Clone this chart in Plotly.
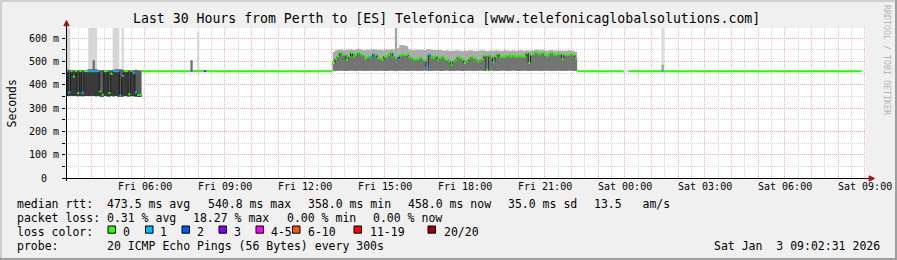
import pandas as pd
import plotly.graph_objects as go

# ---------------------------------------------------------------- data
TITLE = "Last 30 Hours from Perth to [ES] Telefonica [www.telefonicaglobalsolutions.com]"
X_START = "2026-01-02 03:02:31"
X_END = "2026-01-03 09:02:31"
Y_MAX = 643          # ms
STEP_MIN = 5         # probe interval (300 s)

x_tick_times = ["2026-01-02 06:00", "2026-01-02 09:00", "2026-01-02 12:00",
                "2026-01-02 15:00", "2026-01-02 18:00", "2026-01-02 21:00",
                "2026-01-03 00:00", "2026-01-03 03:00", "2026-01-03 06:00",
                "2026-01-03 09:00"]
x_tick_labels = ["Fri 06:00", "Fri 09:00", "Fri 12:00", "Fri 15:00", "Fri 18:00",
                 "Fri 21:00", "Sat 00:00", "Sat 03:00", "Sat 06:00", "Sat 09:00"]
y_tick_values = [0, 100, 200, 300, 400, 500, 600]
y_tick_labels = ["0", "100 m", "200 m", "300 m", "400 m", "500 m", "600 m"]

loss_labels = ["0", "1", "2", "3", "4-5", "6-10", "11-19", "20/20"]

# block A: unstable period at the start (5-min steps)
a_start = "2026-01-02 03:02:31"
a_median = [458, 367, 458, 435, 458, 364, 458, 364, 458, 458,
            458, 458, 458, 458, 458, 371, 357, 458, 458, 364,
            446, 458, 458, 458, 353, 438, 458, 458, 359, 458,
            450, 367, 356, 356]
a_loss = [1, 1, 0, 0, 0, 0, 0, 1, 0, 0,
          1, 1, 1, 1, 1, 0, 0, 0, 0, 0,
          0, 1, 1, 1, 1, 1, 0, 0, 0, 0,
          1, 1, 0, 0]
a_smoke_lo = [352, 351, 353, 352, 353, 350, 352, 350, 352, 351,
              352, 353, 351, 350, 352, 349, 348, 351, 350, 349,
              352, 350, 351, 349, 347, 349, 351, 350, 349, 351,
              350, 349, 348, 348]
a_smoke_hi = [466, 463, 464, 462, 463, 462, 464, 462, 463, 464,
              466, 466, 466, 466, 464, 462, 463, 462, 463, 462,
              463, 464, 466, 466, 466, 464, 462, 463, 462, 463,
              462, 464, 462, 462]

# block B: elevated latency period (5-min steps)
b_start = "2026-01-02 13:02:31"
b_median = [493, 510, 520, 536, 528, 528, 507, 520, 536, 521,
            528, 536, 530, 524, 514, 518, 521, 517, 531, 528,
            514, 510, 507, 521, 521, 528, 536, 521, 514, 514,
            524, 528, 528, 528, 518, 514, 507, 510, 510, 514,
            507, 504, 475, 528, 518, 514, 521, 507, 514, 518,
            510, 507, 500, 486, 500, 507, 518, 514, 507, 493,
            500, 510, 518, 514, 507, 500, 504, 510, 524, 464,
            524, 518, 496, 521, 531, 518, 518, 518, 524, 524,
            521, 524, 521, 521, 521, 521, 521, 536, 493, 528,
            531, 538, 533, 531, 536, 528, 524, 528, 536, 531,
            528, 531, 531, 510, 528, 528, 528, 531, 528, 514]
b_loss = [0, 0, 0, 0, 0, 0, 0, 0, 0, 0,
          0, 0, 0, 0, 0, 0, 0, 1, 1, 0,
          0, 0, 0, 0, 0, 0, 0, 0, 0, 2,
          0, 0, 0, 0, 0, 0, 0, 0, 0, 0,
          0, 0, 1, 1, 0, 0, 0, 0, 0, 0,
          0, 0, 0, 0, 0, 0, 0, 0, 0, 0,
          0, 0, 0, 0, 0, 0, 0, 0, 0, 0,
          0, 0, 0, 0, 0, 0, 0, 0, 0, 0,
          0, 0, 0, 0, 0, 0, 0, 0, 0, 0,
          0, 0, 0, 0, 0, 0, 0, 0, 0, 0,
          0, 0, 0, 0, 0, 0, 0, 0, 0, 0]
b_smoke_lo = [460, 459, 460, 461, 460, 459, 460, 460, 461, 460,
              459, 460, 461, 460, 459, 460, 460, 461, 460, 459,
              460, 461, 460, 459, 460, 460, 461, 460, 459, 460,
              460, 461, 460, 459, 460, 460, 461, 460, 459, 460,
              460, 461, 460, 459, 460, 460, 461, 460, 459, 460,
              460, 461, 460, 459, 460, 460, 461, 460, 459, 460,
              460, 461, 460, 459, 460, 460, 461, 460, 459, 460,
              460, 461, 460, 459, 460, 460, 461, 460, 459, 460,
              460, 461, 460, 459, 460, 460, 461, 460, 459, 460,
              460, 461, 460, 459, 460, 460, 461, 460, 459, 460,
              460, 461, 460, 459, 460, 460, 461, 460, 459, 460]
b_smoke_hi = [540, 548, 550, 552, 550, 549, 551, 550, 552, 549,
              550, 553, 552, 549, 548, 551, 550, 552, 553, 551,
              549, 550, 548, 551, 552, 550, 553, 551, 549, 556,
              570, 570, 568, 566, 552, 549, 548, 550, 551, 549,
              550, 548, 551, 553, 550, 549, 548, 550, 549, 547,
              546, 548, 545, 544, 546, 548, 547, 545, 544, 546,
              545, 547, 548, 546, 544, 545, 547, 548, 546, 544,
              545, 547, 546, 548, 547, 545, 546, 548, 547, 545,
              546, 547, 545, 546, 548, 547, 546, 548, 545, 547,
              548, 550, 549, 548, 550, 547, 546, 548, 549, 547,
              546, 548, 547, 545, 546, 547, 548, 546, 545, 540]

# stable periods (constant median)
flat_start = ["2026-01-02 05:52:31", "2026-01-02 07:42:31", "2026-01-02 07:47:31",
              "2026-01-02 08:12:31", "2026-01-02 08:17:31", "2026-01-02 22:12:31",
              "2026-01-03 00:07:31", "2026-01-03 01:22:31", "2026-01-03 01:27:31"]
flat_end = ["2026-01-02 07:42:31", "2026-01-02 07:47:31", "2026-01-02 08:12:31",
            "2026-01-02 08:17:31", "2026-01-02 13:02:31", "2026-01-02 23:57:31",
            "2026-01-03 01:22:31", "2026-01-03 01:27:31", "2026-01-03 08:52:31"]
flat_median = [458, 458, 458, 458, 458, 458, 458, 458, 458]
flat_loss = [0, 4, 0, 3, 0, 0, 0, 1, 0]
flat_smoke_hi = [464, 464, 464, 464, 464, 464, 464, 464, 464]

# outlier pings (max rtt spikes)
spike_light_start = ["2026-01-02 03:02:31", "2026-01-02 03:52:31", "2026-01-02 04:47:31",
                     "2026-01-02 05:07:31", "2026-01-02 07:57:31", "2026-01-03 01:22:31"]
spike_light_end = ["2026-01-02 03:12:31", "2026-01-02 04:12:31", "2026-01-02 05:02:31",
                   "2026-01-02 05:12:31", "2026-01-02 08:02:31", "2026-01-03 01:27:31"]
spike_light_top = [650, 650, 650, 650, 625, 650]
spike_mid_start = ["2026-01-02 15:22:31", "2026-01-03 01:22:31"]
spike_mid_end = ["2026-01-02 15:27:31", "2026-01-03 01:27:31"]
spike_mid_top = [650, 485]
spike_dark_start = ["2026-01-02 04:02:31", "2026-01-02 07:42:31"]
spike_dark_end = ["2026-01-02 04:07:31", "2026-01-02 07:47:31"]
spike_dark_top = [505, 505]
spike_base = 458

stats_row1 = ["median rtt:  473.5 ms avg", "540.8 ms max", "358.0 ms min",
              "458.0 ms now", "35.0 ms sd", "13.5   am/s"]
stats_row2 = ["packet loss: 0.31 % avg", "18.27 % max", "0.00 % min", "0.00 % now"]
loss_row_label = "loss color:"
probe_text = "probe:       20 ICMP Echo Pings (56 Bytes) every 300s"
stamp_text = "Sat Jan  3 09:02:31 2026"
watermark = "RRDTOOL / TOBI OETIKER"

# ---------------------------------------------------------------- style
W, H = 897, 260
ML, MR, MT, MB = 66, 31, 28, 82
PW, PH = W - ML - MR, H - MT - MB
MONO = "DejaVu Sans Mono"
LOSS_COLORS = ["#26ff00", "#00b8ff", "#0059ff", "#7e00ff",
               "#ff00f0", "#ff5500", "#ff0000", "#a10000"]


def px(x):
    return (x - ML) / PW


def py(y):
    return (H - MB - y) / PH


def fmt(t):
    return t.strftime("%Y-%m-%d %H:%M:%S")


def step_edges(start, n):
    t0 = pd.Timestamp(start)
    return [fmt(t0 + pd.Timedelta(minutes=STEP_MIN * i)) for i in range(n + 1)]


def bucket(n):
    if n <= 3:
        return n
    if n <= 5:
        return 4
    if n <= 10:
        return 5
    if n <= 19:
        return 6
    return 7


fig = go.Figure()


def rects(x0s, x1s, y0s, y1s, color):
    xs, ys = [], []
    for a, b, lo, hi in zip(x0s, x1s, y0s, y1s):
        xs += [a, a, b, b, a, None]
        ys += [lo, hi, hi, lo, lo, None]
    fig.add_trace(go.Scatter(x=xs, y=ys, mode="lines", fill="toself", fillcolor=color,
                             line=dict(width=0, color=color), hoverinfo="skip",
                             showlegend=False))


def band(edges, lo, hi, color):
    fig.add_trace(go.Scatter(x=edges, y=list(lo) + [lo[-1]], mode="lines",
                             line=dict(width=0, shape="hv"), hoverinfo="skip",
                             showlegend=False))
    fig.add_trace(go.Scatter(x=edges, y=list(hi) + [hi[-1]], mode="lines",
                             line=dict(width=0, shape="hv"), fill="tonexty",
                             fillcolor=color, hoverinfo="skip", showlegend=False))


# flat-period faint smoke
rects(flat_start, flat_end, flat_median, flat_smoke_hi, "#e2e2e2")
# spikes
rects(spike_light_start, spike_light_end, [spike_base] * len(spike_light_top),
      spike_light_top, "#d6d6d6")
rects(spike_mid_start, spike_mid_end, [spike_base] * len(spike_mid_top),
      spike_mid_top, "#a2a2a2")
rects(spike_dark_start, spike_dark_end, [spike_base] * len(spike_dark_top),
      spike_dark_top, "#6c6c6c")

a_edges = step_edges(a_start, len(a_median))
b_edges = step_edges(b_start, len(b_median))

band(a_edges, a_smoke_lo, a_smoke_hi, "#5a5a5a")
band(a_edges, a_smoke_lo, a_median, "#3a3a3a")
band(b_edges, b_smoke_lo, b_smoke_hi, "#ababab")
band(b_edges, b_smoke_lo, b_median, "#747474")

# dark connectors of the median
for edges, med in ((a_edges, a_median), (b_edges, b_median)):
    fig.add_trace(go.Scatter(x=edges, y=list(med) + [med[-1]], mode="lines",
                             line=dict(width=1, color="#1c1c1c", shape="hv"),
                             hoverinfo="skip", showlegend=False))

# median coloured by loss
segs = {k: ([], []) for k in range(8)}


def add_segments(x0s, x1s, vals, losses):
    for a, b, v, l in zip(x0s, x1s, vals, losses):
        xs, ys = segs[bucket(l)]
        xs += [a, b, None]
        ys += [v, v, None]


add_segments(a_edges[:-1], a_edges[1:], a_median, a_loss)
add_segments(b_edges[:-1], b_edges[1:], b_median, b_loss)
add_segments(flat_start, flat_end, flat_median, flat_loss)
for k in range(8):
    xs, ys = segs[k]
    if xs:
        fig.add_trace(go.Scatter(x=xs, y=ys, mode="lines",
                                 line=dict(width=2, color=LOSS_COLORS[k]),
                                 hoverinfo="skip", showlegend=False))

# ---------------------------------------------------------------- axes / grid
hours = [fmt(t) for t in pd.date_range("2026-01-02 04:00", "2026-01-03 09:00", freq="1h")]
halves = [fmt(t) for t in pd.date_range("2026-01-02 03:30", "2026-01-03 08:30", freq="1h")]
RED = "#ffabab"
GREY = "#d4d4d4"
DOT = "1px,1px"

fig.update_xaxes(range=[X_START, X_END], type="date", tickvals=hours,
                 showticklabels=False, ticks="", showgrid=True, gridcolor=RED,
                 gridwidth=1, griddash=DOT, showline=False, zeroline=False,
                 minor=dict(tickvals=halves, showgrid=True, gridcolor=GREY,
                            gridwidth=1, griddash=DOT, ticks=""),
                 fixedrange=True)
fig.update_yaxes(range=[0, Y_MAX], tickvals=y_tick_values, showticklabels=False,
                 ticks="outside", ticklen=3, tickcolor="#000", tickwidth=1,
                 showgrid=True, gridcolor=RED, gridwidth=1, griddash=DOT,
                 showline=False, zeroline=False,
                 minor=dict(tickvals=[50, 150, 250, 350, 450, 550], showgrid=True,
                            gridcolor=GREY, gridwidth=1, griddash=DOT,
                            ticks="outside", ticklen=3, tickcolor="#000"),
                 fixedrange=True)

annotations = []


def text(t, x, y, size, anchor="left", color="#000", angle=0, xref="paper", yref="paper",
         yanchor="middle"):
    annotations.append(dict(text=t.replace(" ", "\u00a0"), x=x, y=y, xref=xref, yref=yref,
                            xanchor=anchor, yanchor=yanchor, showarrow=False,
                            borderpad=0, textangle=angle,
                            font=dict(family=MONO, size=size, color=color)))


text(TITLE, px(446.7), py(18.5), 13.2, anchor="center")
for t, lab in zip(x_tick_times, x_tick_labels):
    text(lab, t, py(186.5), 10, anchor="center", xref="x")
for v, lab in zip(y_tick_values, y_tick_labels):
    text(lab, px(59.5 if lab.endswith("m") else 48), v, 10, anchor="right", yref="y")
text("Seconds", px(11.5), py(103), 11.5, anchor="center", angle=-90)
text(watermark, px(887), py(60), 8.3, anchor="center", color="#b4b4b4", angle=90)

ROW_Y = [204.3, 218.3, 231.5, 245.8]
for t, x in zip(stats_row1, [15.5, 206.5, 306.5, 406.5, 506.5, 592.8]):
    text(t, px(x), py(ROW_Y[0]), 11.5)
for t, x in zip(stats_row2, [15.5, 192, 286, 372]):
    text(t, px(x), py(ROW_Y[1]), 11.5)
text(loss_row_label, px(15.5), py(ROW_Y[2]), 11.5)
box_x = [108, 145.5, 182, 219, 256, 292.5, 354, 428]
label_x = [121.5, 159.3, 196, 232.6, 270, 306.6, 368.6, 442.6]
shapes = []
for k, lab in enumerate(loss_labels):
    shapes.append(dict(type="rect", xref="paper", yref="paper",
                       x0=px(box_x[k]), x1=px(box_x[k] + 7.5),
                       y0=py(226), y1=py(233.2), fillcolor=LOSS_COLORS[k],
                       line=dict(color="#000", width=1)))
    text(lab, px(label_x[k]), py(ROW_Y[2]), 11.5)
text(probe_text, px(15.5), py(ROW_Y[3]), 11.5)
text(stamp_text, px(880.5), py(ROW_Y[3]), 11.5, anchor="right")

# axis lines and arrows
AX = "#000000"
ARROW = "#991a1a"
shapes += [
    dict(type="line", xref="paper", yref="paper", x0=px(66.5), x1=px(66.5),
         y0=py(181), y1=py(24), line=dict(color=AX, width=1)),
    dict(type="line", xref="paper", yref="paper", x0=px(63), x1=px(870),
         y0=py(178.5), y1=py(178.5), line=dict(color=AX, width=1)),
    dict(type="path", xref="paper", yref="paper", fillcolor=ARROW,
         line=dict(color=ARROW, width=1),
         path="M %f,%f L %f,%f L %f,%f Z" % (px(66.5), py(20.5), px(63.8), py(25.8),
                                            px(69.2), py(25.8))),
    dict(type="path", xref="paper", yref="paper", fillcolor=ARROW,
         line=dict(color=ARROW, width=1),
         path="M %f,%f L %f,%f L %f,%f Z" % (px(874.5), py(178.5), px(869.2), py(175.8),
                                            px(869.2), py(181.2))),
    # 3D frame
    dict(type="rect", xref="paper", yref="paper", x0=px(0), x1=px(2), y0=py(0),
         y1=py(260), fillcolor="#cfcfcf", line=dict(width=0)),
    dict(type="rect", xref="paper", yref="paper", x0=px(0), x1=px(897), y0=py(0),
         y1=py(2), fillcolor="#cfcfcf", line=dict(width=0)),
    dict(type="rect", xref="paper", yref="paper", x0=px(895), x1=px(897), y0=py(0),
         y1=py(260), fillcolor="#9e9e9e", line=dict(width=0)),
    dict(type="rect", xref="paper", yref="paper", x0=px(0), x1=px(897), y0=py(258),
         y1=py(260), fillcolor="#9e9e9e", line=dict(width=0)),
]

fig.update_layout(width=W, height=H, autosize=False,
                  margin=dict(l=ML, r=MR, t=MT, b=MB, pad=0),
                  paper_bgcolor="#f0f0f0", plot_bgcolor="#ffffff",
                  showlegend=False, hovermode=False,
                  annotations=annotations, shapes=shapes)

fig.write_html("out.html", config={"displayModeBar": False, "staticPlot": True})
